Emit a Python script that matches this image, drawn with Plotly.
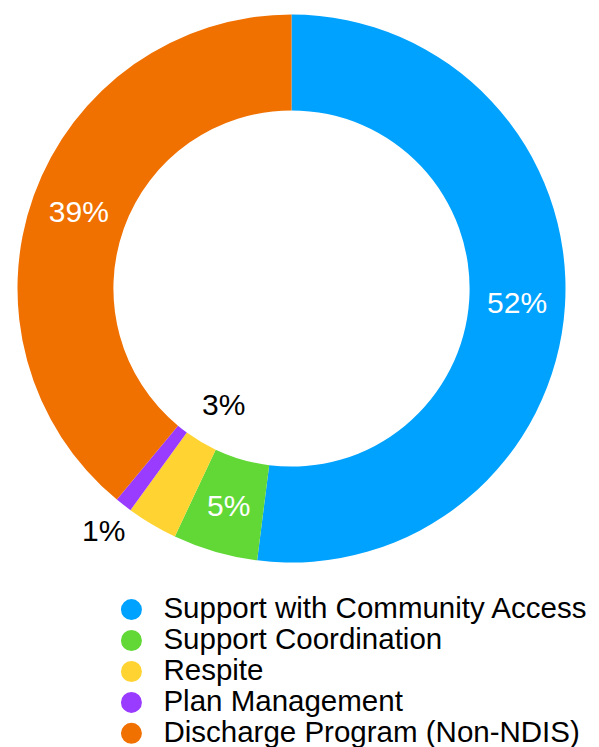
import math
import plotly.graph_objects as go

categories = ["Support with Community Access", "Support Coordination", "Respite",
              "Plan Management", "Discharge Program (Non-NDIS)"]
values = [52, 5, 3, 1, 39]
colors = ["#00A2FF", "#61D836", "#FFD432", "#9A3CFF", "#F07000"]
text_colors = ["white", "white", "black", "black", "white"]
text_pos = ["inside", "ring", "hole", "outside", "inside"]

W, H = 599, 747
cx, cy, R = 291.5, 288.5, 274.0  # pie centre / radius in px
HOLE = 0.65
dom_x = [(cx - R) / W, (cx + R) / W]
dom_y = [(H - cy - R) / H, (H - cy + R) / H]

total = sum(values)
labels_txt = [f"{round(v / total * 100)}%" for v in values]
FONT = "Liberation Sans, Arial"

fig = go.Figure()
fig.add_trace(go.Pie(
    labels=categories, values=values, sort=False, direction="clockwise",
    rotation=0, hole=HOLE, text=labels_txt, textinfo="text",
    textposition=["inside" if p == "inside" else "none" for p in text_pos],
    textfont=dict(color=text_colors, size=30, family=FONT),
    marker=dict(colors=colors, line=dict(width=0)),
    domain=dict(x=dom_x, y=dom_y), showlegend=False,
))

# labels of the small slices, placed along each slice's mid angle
radius_frac = {"ring": (1 + HOLE) / 2, "hole": 0.49, "outside": 1.12}
cum = 0
for i, v in enumerate(values):
    if text_pos[i] in radius_frac:
        mid = (cum + v / 2) / total * 2 * math.pi
        r = R * radius_frac[text_pos[i]]
        fig.add_annotation(x=(cx + r * math.sin(mid)) / W, y=(H - cy + r * math.cos(mid)) / H,
                           xref="paper", yref="paper", xanchor="center", yanchor="middle",
                           text=labels_txt[i], showarrow=False,
                           font=dict(size=30, color=text_colors[i], family=FONT))
    cum += v

# legend entries with circle markers
for c, col in zip(categories, colors):
    fig.add_trace(go.Scatter(
        x=[None], y=[None], mode="markers", name=f'<span style="font-size:29.5px">{c}</span>',
        marker=dict(symbol="circle", size=16, color=col, line=dict(width=5, color=col)),
        showlegend=True,
    ))

fig.update_layout(
    width=W, height=H, margin=dict(l=0, r=0, t=0, b=0, autoexpand=False),
    paper_bgcolor="white", plot_bgcolor="white",
    xaxis=dict(visible=False), yaxis=dict(visible=False),
    font=dict(family=FONT, color="black"),
    legend=dict(x=0.166, y=-0.0095, xanchor="left", yanchor="bottom",
                font=dict(size=21.5, color="black"), itemwidth=54,
                bgcolor="rgba(0,0,0,0)", tracegroupgap=0),
)

fig.write_html("out.html")
